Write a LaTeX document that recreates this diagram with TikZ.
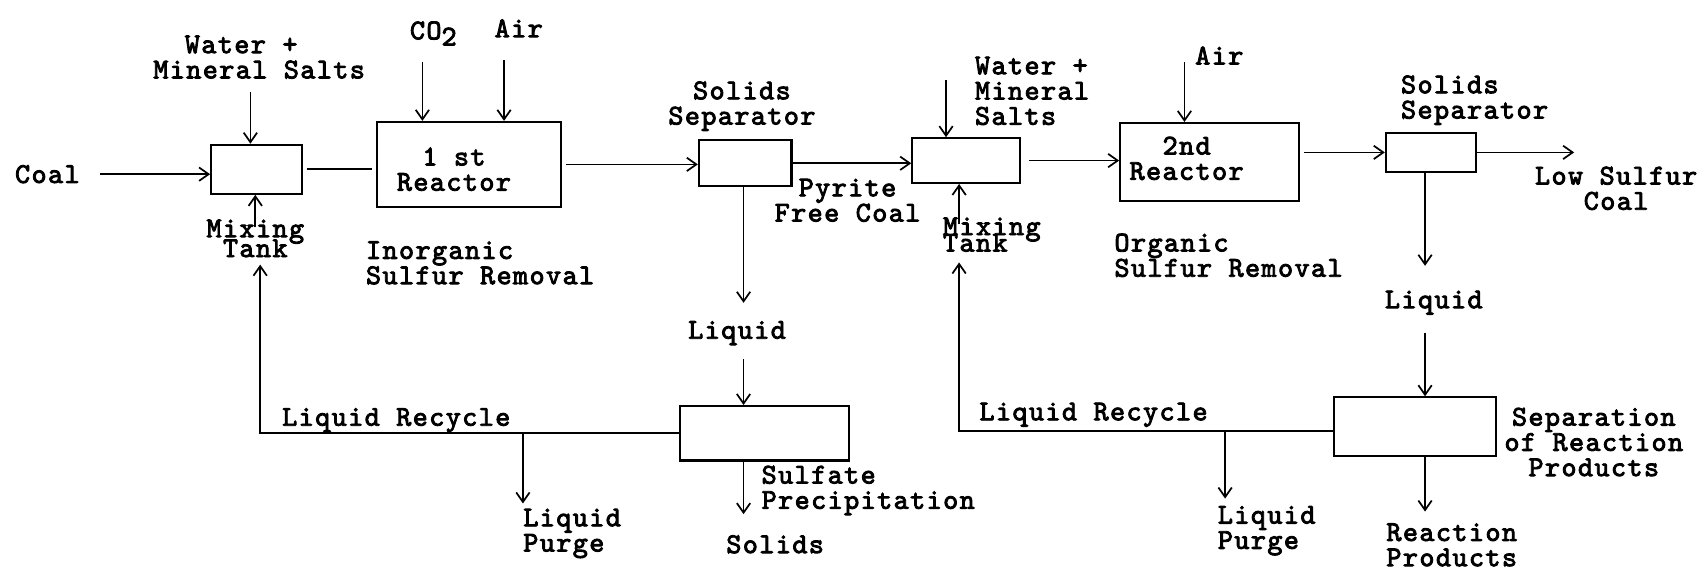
\documentclass[tikz,border=0pt]{standalone}
\usepackage{fontspec}
\usepackage{tikz}
\usetikzlibrary{arrows.meta, positioning}
\newfontfamily\typewr{lmmono10-regular.otf}[FakeBold=3, LetterSpace=5]
\newcommand{\lblfont}{\typewr\fontsize{15pt}{13.2pt}\selectfont}

\begin{document}
\begin{tikzpicture}[
    on grid,
    unit/.style={rectangle, draw, line width=1.1pt, inner sep=0pt},
    lbl/.style={font=\lblfont, align=center, inner sep=0pt},
    lbll/.style={lbl, align=left},
    pipe/.style={line width=0.9pt},
    arrow/.style={pipe, -{Straight Barb[length=5pt,width=7pt]}},
]
\useasboundingbox (0,0) rectangle (31.36,-10.54);

\node[unit, minimum width=1.66cm, minimum height=0.9cm] (mix1) at (4.71,-3.11) {};
\node[unit, minimum width=3.38cm, minimum height=1.56cm, right=3.9cm of mix1, yshift=0.09cm,
      label={[lbl, xshift=-0.27cm, yshift=-0.09cm]center:{1 st\\Reactor}}] (reac1) {};
\node[unit, minimum width=1.7cm, minimum height=0.84cm, right=5.08cm of reac1, yshift=0.02cm] (sep1) {};
\node[unit, minimum width=3.1cm, minimum height=1cm, below=4.96cm of sep1, xshift=0.36cm] (sulf) {};
\node[unit, minimum width=1.98cm, minimum height=0.82cm, right=4.06cm of sep1, yshift=0.05cm] (mix2) {};
\node[unit, minimum width=3.28cm, minimum height=1.44cm, right=4.47cm of mix2, yshift=-0.03cm,
      label={[lbl, xshift=-0.42cm, yshift=0.07cm]center:{2nd\\Reactor}}] (reac2) {};
\node[unit, minimum width=1.66cm, minimum height=0.72cm, right=4.07cm of reac2, yshift=0.18cm] (sep2) {};
\node[unit, minimum width=2.98cm, minimum height=1.08cm, below=5.04cm of sep2, xshift=-0.3cm] (sprod) {};

\node[lbl, left=3.84cm of mix1, yshift=-0.09cm] (coal) {Coal};
\node[lbll, above=2.06cm of mix1, xshift=0.05cm] (wms1) {\hphantom{Mi}Water +\\Mineral Salts};
\node[lbl, below=1.27cm of mix1, xshift=-0.02cm] (mixt1) {Mixing\\[-0.1cm]Tank};
\node[lbl, above left=2.405cm and 0.65cm of reac1] (co2) {CO\raisebox{-0.5ex}{2}};
\node[lbl, above right=2.5cm and 0.92cm of reac1] (air1) {Air};
\node[lbll, below right=1.81cm and 0.21cm of reac1] (inorg) {Inorganic\\Sulfur Removal};
\node[lbl, above left=1.05cm and 0.06cm of sep1] (sol1) {Solids\\Separator};
\node[lbl, below right=0.68cm and 1.88cm of sep1] (pyrite) {Pyrite\\Free Coal};
\node[lbl, below left=3.12cm and 0.15cm of sep1] (liq1) {Liquid};
\node[lbll, below right=1.05cm and 1.9cm of sulf] (sulftxt) {Sulfate\\Precipitation};
\node[lbl, below right=2.04cm and 0.19cm of sulf] (solids1) {Solids};
\node[lbl, above left=0.24cm and 6.77cm of sulf] (rec1) {Liquid Recycle};
\node[lbll, below left=1.84cm and 3.54cm of sulf] (purge1) {Liquid\\Purge};

\node[lbll, above right=1.28cm and 1.21cm of mix2] (wms2) {Water +\\Mineral\\Salts};
\node[lbll, below right=1.36cm and 0.47cm of mix2] (mixt2) {Mixing\\[-0.16cm]Tank};
\node[lbl, above right=1.96cm and 0.18cm of reac2] (air2) {Air};
\node[lbll, below right=1.71cm and 0.35cm of reac2] (organic) {Organic\\Sulfur Removal};
\node[lbll, above right=0.96cm and 0.8cm of sep2] (sol2) {Solids\\Separator};
\node[lbl, below right=0.66cm and 3.4cm of sep2] (lows) {Low Sulfur\\Coal};
\node[lbl, below=2.76cm of sep2, xshift=0.05cm] (liq2) {Liquid};
\node[lbl, below right=0.28cm and 3.29cm of sprod] (sprodtxt) {Separation\\of Reaction\\Products};
\node[lbl, below right=2.17cm and 0.68cm of sprod] (products) {Reaction\\Products};
\node[lbl, above left=0.22cm and 5.9cm of sprod] (rec2) {Liquid Recycle};
\node[lbll, below left=1.91cm and 2.72cm of sprod] (purge2) {Liquid\\Purge};

\coordinate[right=1.78cm of sep2.east] (lowout);
\coordinate (split1) at (purge1.north west |- sulf.west);
\coordinate (split2) at ([xshift=0.14cm, yshift=-0.08cm]purge2.north west |- sprod.west);

\draw[arrow, shorten <=0.36cm] (coal) -- (coal -| mix1.west);
\draw[pipe, shorten <=0.08cm, shorten >=0.06cm] (mix1.east) -- (mix1.east -| reac1.west);
\draw[arrow, shorten <=0.08cm] (reac1.east) -- (reac1.east -| sep1.west);
\draw[arrow] (sep1.east) -- (sep1.east -| mix2.west);
\draw[arrow, shorten <=0.14cm] (mix2.east) -- (mix2.east -| reac2.west);
\draw[arrow, shorten <=0.08cm] (reac2.east |- sep2.west) -- (sep2.west);
\draw[arrow] (sep2.east) -- (lowout);

\draw[arrow, shorten <=0.23cm] ([xshift=-0.11cm]mix1.north |- wms1.south) -- ([xshift=-0.11cm]mix1.north);
\draw[arrow, shorten <=0.29cm] ([xshift=-0.2cm]co2.south) -- ([xshift=-0.2cm]co2.south |- reac1.north);
\draw[arrow, shorten <=0.41cm] ([xshift=-0.27cm]air1.south) -- ([xshift=-0.27cm]air1.south |- reac1.north);
\draw[arrow, shorten <=0.43cm] ([xshift=-0.37cm]mix2.north |- wms2.north) -- ([xshift=-0.37cm]mix2.north);
\draw[arrow, shorten <=0.12cm] ([xshift=-0.64cm]air2.center) -- ([xshift=-0.64cm]air2.center |- reac2.north);
\draw[arrow, shorten <=-0.15cm] (mixt1.north) -- (mixt1.north |- mix1.south);
\draw[arrow, shorten <=-0.13cm] ([xshift=-0.6cm]mixt2.north) -- ([xshift=-0.6cm]mixt2.north |- mix2.south);

\draw[arrow, shorten >=0.33cm] ([xshift=-0.03cm]sep1.south) -- ([xshift=-0.03cm]sep1.south |- liq1.north);
\draw[arrow, shorten <=0.25cm] ([xshift=-0.03cm]sep1.south |- liq1.south) -- ([xshift=-0.03cm]sep1.south |- sulf.north);
\draw[arrow, shorten >=0.38cm] ([xshift=-0.03cm]sep1.south |- sulf.south) -- ([xshift=-0.03cm]sep1.south |- solids1.north);
\draw[arrow, shorten >=0.13cm] (sulf.west) -| ([xshift=0.09cm]mixt1.south);
\draw[arrow, shorten >=0.09cm] (split1) -- (split1 |- purge1.north);

\draw[arrow, shorten >=0.45cm] ([xshift=-0.11cm]sep2.south) -- ([xshift=-0.11cm]sep2.south |- liq2.north);
\draw[arrow, shorten <=0.33cm] ([xshift=-0.11cm]sep2.south |- liq2.south) -- ([xshift=-0.11cm]sep2.south |- sprod.north);
\draw[arrow, shorten >=0.21cm] ([xshift=-0.11cm]sep2.south |- sprod.south) -- ([xshift=-0.11cm]sep2.south |- products.north);
\draw[arrow, shorten >=0.19cm] ([yshift=-0.08cm]sprod.west) -| ([xshift=-0.6cm]mixt2.south);
\draw[arrow, shorten >=0.13cm] (split2) -- (split2 |- purge2.north);

\end{tikzpicture}
\end{document}
